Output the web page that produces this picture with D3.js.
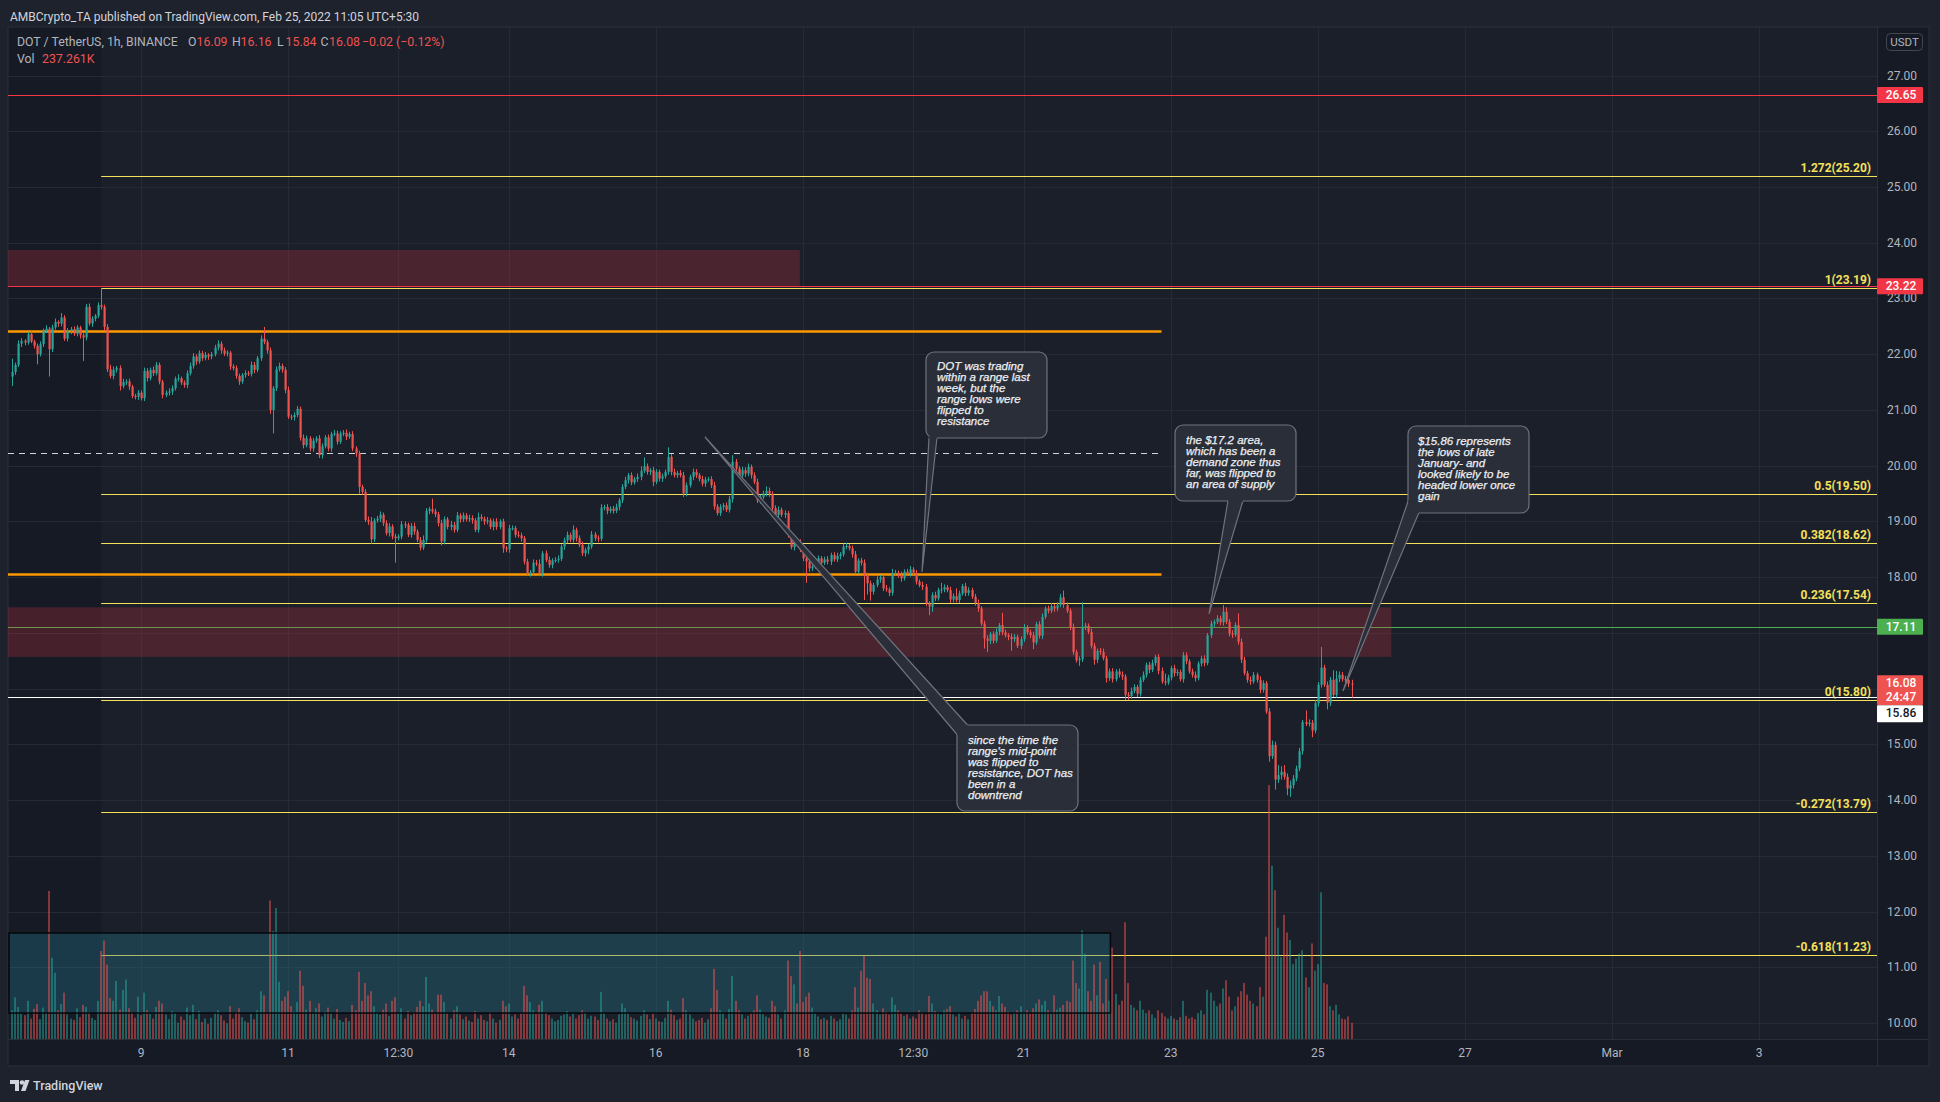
<!DOCTYPE html>
<html><head><meta charset="utf-8">
<script src="https://cdn.jsdelivr.net/npm/d3@7"></script>
<style>body{margin:0;background:#1e222d;overflow:hidden}svg{display:block}</style>
</head><body><svg id="c" width="1940" height="1102"></svg>
<script>
// ---------- DATA ----------
const firstOpen = 21.60;
const closes = [
21.68,21.81,22.19,22.24,22.21,22.36,22.23,22.15,22.00,22.18,22.42,22.46,22.09,22.48,22.58,22.55,22.66,22.28,22.42,22.45,
22.37,22.48,22.34,22.30,22.85,22.55,22.64,22.69,22.88,22.85,22.49,21.73,21.61,21.72,21.75,21.43,21.50,21.51,21.42,21.25,
21.24,21.31,21.21,21.70,21.57,21.72,21.66,21.81,21.51,21.27,21.31,21.33,21.39,21.56,21.57,21.49,21.45,21.66,21.79,21.96,
21.87,22.02,21.93,21.99,21.96,22.00,22.12,22.19,22.07,22.01,22.03,21.78,21.75,21.61,21.51,21.63,21.66,21.65,21.81,21.72,
21.93,22.28,22.22,22.07,21.00,21.39,21.73,21.79,21.72,21.36,20.88,20.87,20.91,21.02,20.50,20.37,20.49,20.31,20.45,20.49,
20.19,20.35,20.51,20.31,20.57,20.58,20.43,20.58,20.59,20.52,20.57,20.31,20.22,19.62,19.53,19.03,19.00,18.68,19.02,19.05,
19.12,18.97,18.79,18.91,18.73,18.70,18.73,18.95,18.94,18.76,18.92,18.82,18.67,18.53,18.67,19.19,19.22,19.18,19.13,18.97,
18.64,19.04,18.90,18.94,18.85,19.11,19.04,19.11,19.04,19.06,19.02,18.85,19.08,19.05,19.00,19.02,18.90,19.00,18.90,19.00,
18.52,18.50,18.88,18.88,18.76,18.75,18.70,18.28,18.07,18.09,18.26,18.24,18.07,18.43,18.31,18.22,18.30,18.31,18.33,18.55,
18.66,18.76,18.67,18.85,18.70,18.58,18.43,18.49,18.55,18.77,18.70,18.69,19.25,19.26,19.19,19.23,19.19,19.26,19.38,19.62,
19.74,19.83,19.70,19.76,19.80,19.91,19.99,19.89,19.92,19.71,19.89,19.77,19.81,19.89,20.16,19.89,19.83,19.87,19.83,19.50,
19.65,19.80,19.89,19.83,19.76,19.68,19.75,19.76,19.65,19.27,19.15,19.26,19.29,19.21,19.40,20.07,19.95,19.83,19.92,19.86,
19.98,19.83,19.71,19.38,19.44,19.50,19.55,19.50,19.24,19.12,19.21,19.12,19.15,18.76,18.54,18.64,18.63,18.49,18.34,18.28,
18.16,18.19,18.28,18.34,18.26,18.32,18.28,18.40,18.32,18.38,18.41,18.55,18.56,18.52,18.41,18.10,18.30,18.26,18.04,17.89,
17.74,17.86,17.96,18.00,17.80,17.78,17.72,18.07,18.08,18.04,17.98,18.10,18.07,18.14,18.08,17.92,17.86,17.83,17.53,17.47,
17.68,17.62,17.77,17.78,17.82,17.77,17.60,17.66,17.59,17.71,17.84,17.72,17.77,17.65,17.54,17.44,17.17,16.90,16.86,16.98,
16.86,17.02,17.14,17.01,16.96,16.93,16.89,16.93,16.77,16.89,17.10,17.01,16.96,16.83,17.16,16.95,17.29,17.44,17.40,17.48,
17.44,17.50,17.64,17.50,17.40,17.11,16.66,16.51,16.53,17.11,17.13,17.02,16.77,16.52,16.68,16.66,16.55,16.19,16.31,16.17,
16.31,16.25,16.22,15.89,15.87,15.96,16.03,15.91,16.16,16.25,16.43,16.34,16.46,16.57,16.32,16.13,16.11,16.20,16.37,16.28,
16.30,16.17,16.60,16.49,16.31,16.25,16.19,16.45,16.54,16.46,16.96,17.17,17.20,17.26,17.19,17.38,17.20,16.99,16.97,17.14,
16.84,16.52,16.28,16.16,16.13,16.25,16.16,15.98,16.10,15.59,14.79,14.99,14.37,14.45,14.51,14.42,14.21,14.27,14.39,14.57,
14.88,15.40,15.37,15.39,15.25,15.74,16.07,16.38,16.07,15.75,16.16,15.89,16.18,16.25,16.17,16.16,16.09,16.08];
// upper / lower wick lengths beyond the body, in cents
const wickUp = [
24,4,6,5,3,4,6,3,4,5,4,6,3,5,6,3,8,4,5,4, 5,4,3,4,5,6,4,3,5,30,4,5,8,6,4,5,6,4,5,3,
4,5,4,6,5,4,6,5,4,3,4,6,5,4,7,3,4,5,6,6, 4,5,4,5,3,4,5,6,4,5,4,3,4,5,4,3,5,4,6,5,
4,6,21,4,5,4,5,6,4,5,6,4,5,5,4,6,5,4,5,4, 6,5,4,5,4,6,5,4,5,6,4,5,4,5,4,5,6,8,4,5,
6,4,5,6,4,5,4,6,5,4,5,6,4,5,8,5,4,19,5,4, 6,5,4,7,5,6,4,5,4,6,5,4,8,5,4,6,4,5,6,4,
5,4,6,5,4,7,5,4,5,4,6,5,8,4,5,6,4,5,6,4, 5,6,4,8,4,5,6,4,5,6,4,5,6,4,5,4,5,6,4,5,
6,4,5,4,6,8,16,5,4,6,5,4,5,4,17,5,6,4,5,6, 5,4,6,5,4,6,5,4,5,6,4,5,4,5,6,12,5,4,6,5,
6,4,5,6,4,5,8,6,4,5,6,4,5,4,5,6,4,5,6,4, 5,4,6,5,4,5,6,4,5,6,4,5,6,4,5,6,4,5,6,4,
5,4,6,4,5,6,4,8,5,4,6,4,5,6,4,5,4,6,5,4, 5,6,4,12,5,4,6,5,14,5,4,6,5,4,5,6,4,5,6,4,
5,6,4,22,5,4,6,5,4,5,6,4,5,6,4,5,6,4,5,6, 4,5,6,12,5,4,6,4,5,44,5,4,6,5,4,5,6,4,5,6,
4,5,6,4,5,6,5,4,5,6,4,5,6,4,5,6,14,5,4,6, 5,4,6,5,4,5,6,4,5,6,4,5,4,6,5,12,8,5,6,5,
21,6,5,4,6,5,4,6,5,4,6,8,6,18,10,12,6,8,6,5, 6,4,21,6,5,6,5,37,5,6,5,17,14,6,5,6,4,7];
const wickDn = [
17,5,4,6,5,4,3,5,18,4,5,4,49,5,4,6,5,4,5,6, 4,5,6,42,5,4,6,5,4,5,6,5,4,6,5,8,4,5,6,4,
5,6,4,5,6,4,5,4,5,6,4,5,6,4,5,4,5,6,4,5, 6,4,5,4,6,5,4,5,6,4,5,6,4,5,6,4,5,4,5,6,
4,5,4,6,7,42,5,4,5,6,4,5,6,4,5,6,4,5,6,4, 5,6,4,5,6,4,5,4,5,6,4,5,6,12,5,4,6,8,5,4,
6,5,4,6,5,44,4,5,6,4,5,6,4,5,4,5,6,4,5,6, 7,5,4,6,5,4,6,5,4,5,6,4,5,4,6,5,4,6,5,4,
8,5,6,4,5,4,6,5,4,6,5,4,5,6,4,5,6,4,5,4, 6,5,4,5,6,4,5,6,8,4,5,6,4,5,6,4,5,4,6,5,
4,6,5,4,5,6,4,5,6,8,4,5,6,4,5,6,4,5,4,6, 5,4,6,5,4,5,6,4,5,6,4,5,6,4,5,6,4,5,4,6,
5,6,4,5,6,4,5,6,4,8,5,4,6,5,4,6,5,4,5,38, 6,5,4,6,5,4,5,6,4,5,6,4,5,4,6,5,4,5,45,20,
16,5,4,6,5,4,6,5,4,5,6,4,5,6,4,5,4,6,5,15, 9,5,4,6,5,4,6,5,4,5,4,6,5,4,5,6,4,18,20,6,
5,4,6,5,4,6,21,5,4,6,5,4,5,12,4,5,6,4,5,4, 6,5,4,5,4,6,5,4,10,5,6,4,5,9,6,5,4,8,5,6,
4,5,6,9,7,5,4,6,5,4,5,6,4,5,6,4,5,4,5,6, 5,4,6,5,4,5,6,4,5,6,4,5,6,4,5,6,4,5,6,4,
5,6,4,5,6,4,5,6,5,4,10,5,18,6,8,5,12,15,6,5, 5,6,4,5,12,5,6,5,4,12,6,4,5,6,4,5,6,24];
// volume in thousands
const volumes = [
420,610,470,380,350,560,300,440,510,290,460,380,2170,1190,970,420,510,680,360,300,
280,450,320,500,470,390,310,280,560,1290,1440,1090,600,560,850,430,720,870,450,390,
310,620,350,680,420,380,300,470,560,520,360,290,410,380,240,330,280,460,350,500,
290,410,250,300,220,310,380,420,350,270,230,480,300,390,450,320,260,240,370,290,
420,700,640,390,2030,1580,1920,840,560,620,700,480,400,540,1000,780,430,560,380,450,
520,330,400,460,380,300,440,280,250,310,260,500,420,985,560,820,640,700,480,390,
360,430,520,340,560,610,380,450,300,410,350,390,470,560,480,910,520,430,380,650,
650,540,380,300,420,480,360,290,330,270,250,410,300,350,280,260,390,300,240,280,
560,480,520,330,360,300,380,780,640,540,420,380,500,560,390,350,300,260,280,340,
360,410,330,380,300,350,420,390,300,340,330,280,690,380,300,260,290,240,360,520,
450,380,320,300,270,340,420,360,290,380,300,260,250,310,560,430,350,280,300,600,
420,360,300,260,280,310,240,290,450,1030,720,420,380,300,440,925,560,420,360,300,
340,380,420,640,430,360,330,310,560,480,360,300,420,1150,920,800,520,1290,540,620,
680,460,380,330,290,310,280,340,300,260,290,380,360,300,420,760,460,1000,1220,900,
880,520,420,360,450,400,360,610,500,420,380,340,360,300,330,300,420,380,360,630,
520,410,380,360,420,440,480,360,330,380,300,340,290,380,440,560,640,700,700,560,
480,420,630,520,470,400,360,380,420,480,390,420,380,450,520,580,500,560,420,380,
640,430,460,500,560,540,1150,820,740,1590,1250,700,560,1090,640,1130,520,880,560,1340,
660,500,560,1710,820,500,460,420,560,430,380,420,360,310,420,380,330,300,340,300,
280,320,560,340,300,320,290,380,420,360,720,680,560,480,520,740,860,620,420,480,
620,700,820,650,560,520,480,760,620,1500,3720,2540,2180,1630,1200,1820,1560,1450,1100,1180,
1250,1300,900,760,1400,1000,1100,2150,820,800,480,420,500,360,300,290,330,237];
const startTime = Date.UTC(2022, 1, 7, 6);
const priceTicks = [10,11,12,13,14,15,16,17,18,19,20,21,22,23,24,25,26,27];
const timeTicks = [
  [Date.UTC(2022,1,9),"9"],[Date.UTC(2022,1,11),"11"],[Date.UTC(2022,1,12,12),"12:30"],
  [Date.UTC(2022,1,14),"14"],[Date.UTC(2022,1,16),"16"],[Date.UTC(2022,1,18),"18"],
  [Date.UTC(2022,1,19,12),"12:30"],[Date.UTC(2022,1,21),"21"],[Date.UTC(2022,1,23),"23"],
  [Date.UTC(2022,1,25),"25"],[Date.UTC(2022,1,27),"27"],[Date.UTC(2022,2,1),"Mar"],[Date.UTC(2022,2,3),"3"]];
const fibRatios = ["1.272","1","0.5","0.382","0.236","0","-0.272","-0.618"];
const fibPrices = [25.20,23.19,19.50,18.62,17.54,15.80,13.79,11.23];
const orangeLevels = [22.42, 18.06];
const dashedLevel = 20.23;
const redLevels = [26.65, 23.22];
const greenLevel = 17.11;
const whiteLevel = 15.86;
const supplyTop = [23.87, 23.22];
const supplyMid = [17.46, 16.57];
const notes = [
  ["DOT was trading","within a range last","week, but the","range lows were","flipped to","resistance"],
  ["the $17.2 area,","which has been a","demand zone thus","far, was flipped to","an area of supply"],
  ["$15.86 represents","the lows of late","January- and","looked likely to be","headed lower once","gain"],
  ["since the time the","range's mid-point","was flipped to","resistance, DOT has","been in a","downtrend"]];
const header = "AMBCrypto_TA published on TradingView.com, Feb 25, 2022 11:05 UTC+5:30";
const legendSym = "DOT / TetherUS, 1h, BINANCE";
const legendKeys = ["O","H","L","C"];
const legendVals = ["16.09","16.16","15.84","16.08"];
const legendChg = "\u22120.02 (\u22120.12%)";
const legendVol = "237.261K";
const countdown = "24:47";

// ---------- LAYOUT ----------
const UP="#26a69a", DN="#ef5350", FIB="#f5e05a";
const P={x0:8,x1:1877,y0:27,y1:1039,ax1:1929,by:1066};
const svg=d3.select("#c");
const x=d3.scaleUtc().domain([new Date(Date.UTC(2022,1,9)),new Date(Date.UTC(2022,1,25))]).range([141,141+16*73.55]);
const y=d3.scaleLinear().domain([10,27]).range([1023.2,75.5]);
const vy=d3.scaleLinear().domain([0,4000]).range([1039,766]);
const fibX0 = x(new Date(Date.UTC(2022,1,8,11)));
const zoneX1 = x(new Date(Date.UTC(2022,1,17,23)));
const lineX1 = x(new Date(Date.UTC(2022,1,22,21)));
const midX1 = x(new Date(Date.UTC(2022,1,26,0)));
const boxX1 = x(new Date(Date.UTC(2022,1,22,4)));

const candles=closes.map((c,i)=>{const o=i?closes[i-1]:firstOpen;
  return {t:new Date(startTime+i*3600e3),o,c,hi:Math.max(o,c)+wickUp[i]/100,lo:Math.min(o,c)-wickDn[i]/100,v:volumes[i]};});

svg.append("rect").attr("width",1940).attr("height",1102).attr("fill","#1e222d");
svg.append("rect").attr("x",P.x0).attr("y",P.y0).attr("width",P.ax1-P.x0).attr("height",P.by-P.y0)
  .attr("fill","#161a25").attr("stroke","#2a2e39");
svg.append("defs").append("clipPath").attr("id","clip").append("rect")
  .attr("x",P.x0).attr("y",P.y0).attr("width",P.x1-P.x0).attr("height",P.y1-P.y0);
const g=svg.append("g").attr("clip-path","url(#clip)");
g.append("rect").attr("x",fibX0).attr("y",P.y0).attr("width",P.x1-fibX0).attr("height",P.y1-P.y0).attr("fill","rgba(255,255,255,0.025)");
// grid
g.selectAll(".hg").data(priceTicks).join("line").attr("x1",P.x0).attr("x2",P.x1)
  .attr("y1",d=>Math.round(y(d))+0.5).attr("y2",d=>Math.round(y(d))+0.5).attr("stroke","#262a35");
g.selectAll(".vg").data(timeTicks).join("line").attr("y1",P.y0).attr("y2",P.y1)
  .attr("x1",d=>Math.round(x(new Date(d[0])))+0.5).attr("x2",d=>Math.round(x(new Date(d[0])))+0.5).attr("stroke","#262a35");
const hline=(p,x0,x1,col,w,dash)=>{const l=g.append("line").attr("x1",x0).attr("x2",x1)
  .attr("y1",Math.round(y(p))+0.5).attr("y2",Math.round(y(p))+0.5).attr("stroke",col).attr("stroke-width",w);
  if(dash) l.attr("stroke-dasharray",dash); return l;};
redLevels.forEach(p=>hline(p,P.x0,P.x1,"#f23645",1));
hline(greenLevel,P.x0,P.x1,"#4caf50",1);
// zones
g.append("rect").attr("x",P.x0).attr("width",zoneX1-P.x0).attr("y",y(supplyTop[0])).attr("height",y(supplyTop[1])-y(supplyTop[0]))
  .attr("fill","rgba(242,54,69,0.22)");
g.append("rect").attr("x",P.x0).attr("width",midX1-P.x0).attr("y",y(supplyMid[0])).attr("height",y(supplyMid[1])-y(supplyMid[0]))
  .attr("fill","rgba(242,54,69,0.22)");
hline(whiteLevel,P.x0,P.x1,"#ffffff",1);
// fib
fibPrices.forEach((p,i)=>{hline(p,fibX0,P.x1,FIB,1);
  g.append("text").attr("x",P.x1-6).attr("y",Math.round(y(p))-4).attr("text-anchor","end")
   .attr("font-family","Roboto, 'Liberation Sans', sans-serif").attr("font-size",12).attr("font-weight",700)
   .attr("fill",FIB).text(fibRatios[i]+"("+p.toFixed(2)+")");});
orangeLevels.forEach(p=>hline(p,P.x0,lineX1,"#ff9800",2.5));
hline(dashedLevel,P.x0,lineX1,"#d1d4dc",1.2,"6,5");
// volume box
g.append("rect").attr("x",P.x0+1).attr("width",boxX1-P.x0).attr("y",933).attr("height",80)
  .attr("fill","rgba(38,120,140,0.35)");
// volume
g.selectAll(".vol").data(candles).join("rect").attr("x",d=>Math.round(x(d.t))-1).attr("width",2)
  .attr("y",d=>vy(d.v)).attr("height",d=>P.y1-vy(d.v))
  .attr("fill",d=>d.c>=d.o?"rgba(38,166,154,0.5)":"rgba(239,83,80,0.5)");
g.append("rect").attr("x",P.x0+1).attr("width",boxX1-P.x0).attr("y",933).attr("height",80)
  .attr("fill","none").attr("stroke","#05070a").attr("stroke-width",1.5);
// candles
const cg=g.append("g");
cg.selectAll(".wk").data(candles).join("line").attr("x1",d=>Math.round(x(d.t))+0.5).attr("x2",d=>Math.round(x(d.t))+0.5)
  .attr("y1",d=>y(d.hi)).attr("y2",d=>y(d.lo)).attr("stroke",d=>d.c>=d.o?UP:DN).attr("stroke-width",1);
cg.selectAll(".bd").data(candles).join("rect").attr("x",d=>Math.round(x(d.t))-0.5).attr("width",2.2)
  .attr("y",d=>y(Math.max(d.o,d.c))).attr("height",d=>Math.max(1,y(Math.min(d.o,d.c))-y(Math.max(d.o,d.c))))
  .attr("fill",d=>d.c>=d.o?UP:DN);
// callouts
const callout=(box,tail,lines,tx,ty)=>{
  const cgr=svg.append("g");
  cgr.append("rect").attr("x",box[0]).attr("y",box[1]).attr("width",box[2]).attr("height",box[3]).attr("rx",8)
    .attr("fill","#2a2e39").attr("stroke","#6f727c").attr("stroke-width",1.2);
  cgr.append("path").attr("d","M"+tail.map(p=>p.join(",")).join("L")).attr("fill","#2a2e39").attr("stroke","#6f727c").attr("stroke-width",1.2);
  cgr.append("path").attr("d","M"+tail[0].join(",")+"L"+tail[tail.length-1].join(",")).attr("stroke","#2a2e39").attr("stroke-width",2.5);
  const t=cgr.append("text").attr("font-family","'Liberation Sans', Arial, sans-serif").attr("font-style","italic")
    .attr("font-size",11.5).attr("fill","#eceef2").attr("stroke","#eceef2").attr("stroke-width",0.25);
  lines.forEach((s,i)=>t.append("tspan").attr("x",tx).attr("y",ty+i*11).text(s));
};
callout([926,352,121,86],[[929,437.5],[922,572],[937,437.5]],notes[0],937,370);
callout([1175,425,121,76],[[1228,500.5],[1209,614],[1243,500.5]],notes[1],1186,444);
callout([1408,426,121,87],[[1408.5,500],[1343,691],[1419,512.5]],notes[2],1418,445);
callout([957,725,121,86],[[957.5,735],[705,437],[968,725.5]],notes[3],968,744);
// axes
svg.append("line").attr("x1",P.x1+0.5).attr("x2",P.x1+0.5).attr("y1",P.y0).attr("y2",P.by).attr("stroke","#2a2e39");
svg.append("line").attr("x1",P.x0).attr("x2",P.ax1).attr("y1",P.y1+0.5).attr("y2",P.y1+0.5).attr("stroke","#2a2e39");
const ax=svg.append("g").attr("font-family","Roboto, 'Liberation Sans', sans-serif").attr("font-size",12).attr("fill","#b2b5be");
// tick labels hidden behind the price badges (16.00, 17.00) are skipped, as on the price scale
ax.selectAll(".pl").data(priceTicks.filter(d=>d!==16&&d!==17)).join("text").attr("x",1902).attr("y",d=>y(d)+4).attr("text-anchor","middle").text(d=>d.toFixed(2));
ax.selectAll(".tl").data(timeTicks).join("text").attr("x",d=>x(new Date(d[0]))).attr("y",1057).attr("text-anchor","middle").text(d=>d[1]);
svg.append("rect").attr("x",1886.5).attr("y",33.5).attr("width",36).attr("height",17).attr("rx",4).attr("fill","none").attr("stroke","#434651");
svg.append("text").attr("x",1904.5).attr("y",46).attr("text-anchor","middle").attr("font-family","Roboto, sans-serif").attr("font-size",11.5).attr("fill","#b2b5be").text("USDT");
const badge=(yc,h,bg,fg,txt)=>{svg.append("rect").attr("x",P.x1).attr("y",yc-h/2).attr("width",46).attr("height",h).attr("fill",bg).attr("rx",1);
  txt.forEach((s,i)=>svg.append("text").attr("x",1901).attr("y",yc-h/2+12+i*13.5).attr("text-anchor","middle")
   .attr("font-family","Roboto, sans-serif").attr("font-size",12).attr("font-weight",500).attr("fill",fg).text(s));};
badge(y(redLevels[0]),16,"#f23645","#ffffff",[redLevels[0].toFixed(2)]);
badge(y(redLevels[1]),16,"#f23645","#ffffff",[redLevels[1].toFixed(2)]);
badge(y(greenLevel),16,"#4caf50","#ffffff",[greenLevel.toFixed(2)]);
const lastY=y(closes[closes.length-1])+6;
badge(lastY,30,"#ef5350","#ffffff",[closes[closes.length-1].toFixed(2),countdown]);
badge(lastY+15+8.5,17,"#ffffff","#131722",[whiteLevel.toFixed(2)]);
// header & legend
svg.append("text").attr("x",10).attr("y",21).attr("font-family","Roboto, sans-serif").attr("font-size",12).attr("fill","#d1d4dc").text(header);
const lf=(xx,yy,col,s)=>svg.append("text").attr("x",xx).attr("y",yy).attr("font-family","Roboto, sans-serif").attr("font-size",12.3).attr("fill",col).text(s);
lf(17,46,"#b2b5be",legendSym);
const kx=[188,232,277,320.5];
legendKeys.forEach((k,i)=>{lf(kx[i],46,"#b2b5be",k);lf(kx[i]+8.6,46,"#ef5350",legendVals[i]);});
lf(362,46,"#ef5350",legendChg);
lf(17,63,"#b2b5be","Vol");
lf(42,63,"#ef5350",legendVol);
// TradingView logo
const lgG=svg.append("g").attr("transform","translate(10,1078)");
lgG.append("path").attr("d","M0 2h9v11h-4v-7h-5z").attr("fill","#d1d4dc");
lgG.append("circle").attr("cx",12).attr("cy",4.5).attr("r",2.3).attr("fill","#d1d4dc");
lgG.append("path").attr("d","M15 2h4.5l-4 11h-4.5z").attr("fill","#d1d4dc");
svg.append("text").attr("x",33).attr("y",1090).attr("font-family","Roboto, sans-serif").attr("font-size",12.5).attr("font-weight",500).attr("fill","#d1d4dc").text("TradingView");
</script></body></html>
